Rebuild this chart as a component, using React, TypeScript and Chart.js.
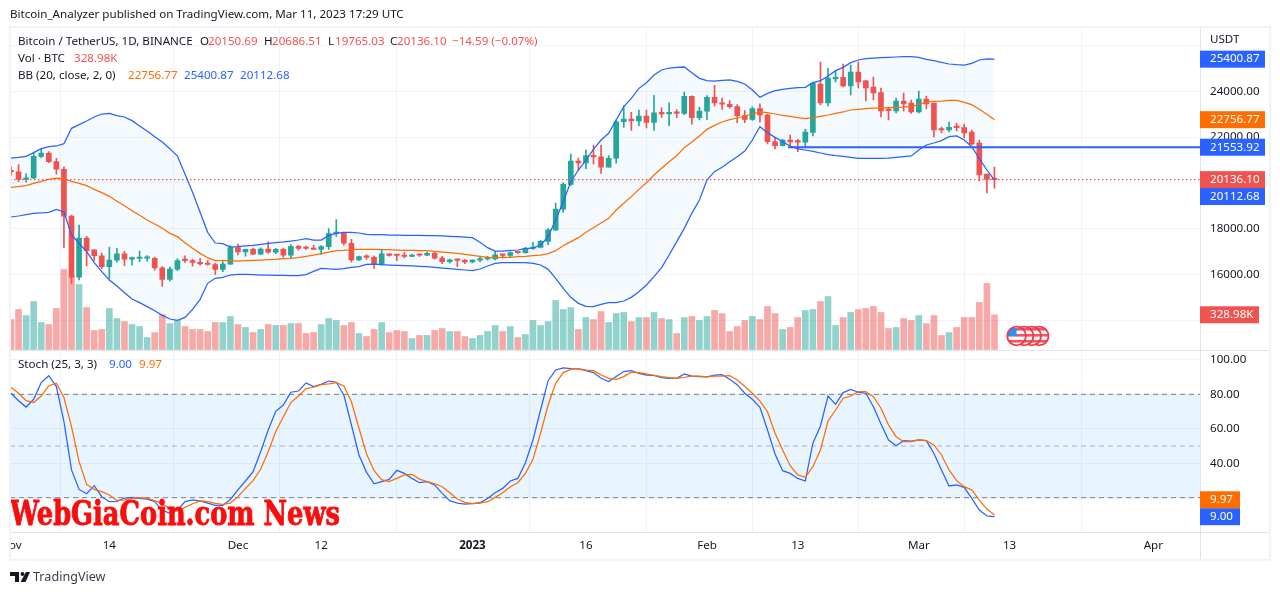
import React, { useEffect, useRef } from "react";
import { Chart, registerables } from "chart.js";

Chart.register(...registerables);

// ---------- data (day 0 = 1 Nov 2022, day 130 = 11 Mar 2023) ----------
const opens = [
  20490, 20482, 20151, 20207, 21147, 21300, 20925, 20590, 18543, 15880,
  17586, 17070, 16812, 16330, 16618, 16900, 16661, 16692, 16700, 16700,
  16280, 15781, 16226, 16603, 16598, 16522, 16458, 16428, 16212, 16442,
  17163, 16977, 17092, 16885, 17105, 16966, 17089, 16836, 17224, 17130,
  17128, 17085, 17209, 17775, 17803, 17356, 16632, 16777, 16739, 16438,
  16895, 16824, 16821, 16778, 16836, 16832, 16918, 16706, 16547, 16633,
  16607, 16542, 16617, 16672, 16675, 16850, 16829, 16950, 16943, 17127,
  17180, 17440, 17943, 18850, 19930, 20950, 20871, 21185, 21133, 20677,
  21071, 22667, 22783, 22707, 22916, 22632, 23060, 23009, 23074, 23031,
  23774, 22840, 23130, 23733, 23488, 23431, 23326, 22932, 22763, 23242,
  22963, 21797, 21625, 21869, 21783, 21773, 22196, 24318, 23486, 24535,
  24608, 24229, 24841, 24450, 24185, 23940, 23180, 23136, 23573, 23486,
  23093, 23661, 23486, 22335, 22306, 22437, 22408, 22218, 21738, 20383,
  20150.69,
];
const closes = [
  20482, 20151, 20207, 21150, 21300, 20925, 20590, 18540, 15880, 17586,
  17034, 16812, 16330, 16620, 16900, 16662, 16692, 16700, 16700, 16280,
  15781, 16226, 16603, 16598, 16522, 16458, 16428, 16212, 16442, 17163,
  16977, 17092, 16885, 17105, 16966, 17089, 16836, 17224, 17128, 17128,
  17085, 17209, 17775, 17803, 17356, 16632, 16777, 16739, 16438, 16895,
  16824, 16821, 16778, 16836, 16832, 16918, 16706, 16547, 16633, 16607,
  16542, 16617, 16672, 16675, 16850, 16829, 16950, 16943, 17127, 17180,
  17440, 17943, 18850, 19930, 20950, 20871, 21185, 21133, 20677, 21071,
  22667, 22783, 22707, 22916, 22632, 23060, 23009, 23074, 23031, 23774,
  22840, 23130, 23733, 23488, 23431, 23326, 22932, 22763, 23242, 22963,
  21797, 21625, 21869, 21783, 21773, 22218, 24345, 23486, 24578, 24608,
  24229, 24841, 24404, 24141, 23923, 23136, 23150, 23573, 23442, 23093,
  23661, 23442, 22306, 22306, 22422, 22408, 22175, 21694, 20339, 20150,
  20136.1,
];
const highs = [
  20700, 20800, 20394, 21302, 21480, 21367, 21070, 20700, 18590, 18154,
  17660, 17070, 16926, 17190, 17134, 17000, 16750, 17014, 16820, 16750,
  16340, 16316, 16680, 16812, 16670, 16700, 16600, 16480, 16550, 17250,
  17320, 17100, 17150, 17160, 17424, 17130, 17150, 17300, 17270, 17230,
  17270, 17260, 18000, 18387, 17850, 17533, 16800, 16850, 16800, 17061,
  16895, 16860, 16960, 16870, 16870, 16970, 17000, 16780, 16670, 16670,
  16650, 16630, 16760, 16780, 16990, 16870, 16980, 16970, 17180, 17400,
  17490, 18000, 19117, 20000, 21258, 21075, 21439, 21650, 21650, 21190,
  22755, 23371, 23078, 23180, 23180, 23816, 23280, 23489, 23200, 23960,
  23800, 23310, 23812, 24255, 23700, 23590, 23420, 23150, 23320, 23450,
  23000, 21942, 21898, 22087, 21898, 22335, 24403, 25278, 25001, 24884,
  25190, 25146, 25278, 24491, 24622, 24141, 23296, 23704, 23923, 23617,
  24010, 23792, 23486, 22437, 22655, 22612, 22568, 22306, 21869, 20383,
  20686.51,
];
const lows = [
  20330, 20048, 20031, 20180, 21100, 20880, 20380, 17166, 15588, 15750,
  16361, 16600, 16250, 15815, 16530, 16375, 16400, 16550, 16570, 16180,
  15476, 15700, 16160, 16520, 16350, 16400, 16400, 15995, 16120, 16430,
  16850, 16790, 16860, 16870, 16910, 16900, 16750, 16730, 17060, 17085,
  17080, 16870, 17090, 17660, 17275, 16527, 16600, 16650, 16258, 16398,
  16790, 16592, 16720, 16770, 16780, 16810, 16660, 16470, 16490, 16333,
  16470, 16500, 16540, 16620, 16630, 16710, 16750, 16910, 16920, 17090,
  17150, 17300, 17910, 18700, 19888, 20551, 20611, 20822, 20407, 20677,
  20859, 22422, 22292, 22500, 22400, 22292, 22857, 22500, 22850, 22980,
  22560, 22745, 22760, 23350, 23200, 23260, 22630, 22630, 22720, 22650,
  21700, 21476, 21600, 21607, 21359, 21563, 22044, 23400, 23355, 24404,
  24185, 23835, 24141, 23573, 23617, 22874, 22743, 23049, 23136, 23034,
  23049, 23224, 22000, 22175, 22218, 22262, 21956, 21650, 20077, 19553,
  19765.03,
];
const volumesK = [
  284, 379, 322, 455, 256, 237, 389, 758, 695, 616,
  398, 180, 190, 389, 294, 265, 237, 218, 114, 161,
  332, 246, 275, 218, 190, 190, 171, 256, 256, 313,
  237, 209, 161, 190, 237, 228, 228, 246, 246, 152,
  161, 237, 294, 275, 228, 256, 152, 123, 190, 256,
  161, 180, 171, 104, 133, 133, 180, 199, 171, 171,
  123, 104, 133, 171, 228, 171, 218, 114, 142, 275,
  228, 265, 465, 379, 398, 190, 303, 284, 360, 256,
  341, 351, 265, 303, 303, 351, 294, 284, 152, 303,
  313, 275, 313, 370, 341, 171, 218, 275, 313, 284,
  408, 341, 190, 209, 303, 370, 379, 455, 502, 228,
  303, 351, 379, 389, 408, 351, 199, 209, 294, 275,
  322, 246, 322, 133, 161, 209, 303, 303, 446, 626,
  328.98,
];
const bbUpper = [
  21082, 21111, 21155, 21315, 21490, 21578, 21607, 21709, 22379, 22539,
  22699, 22874, 23005, 23034, 22932, 22874, 22714, 22481, 22262, 22015,
  21782, 21490, 21170, 20383, 19582, 18708, 17834, 17368, 17339, 17193,
  17207, 17237, 17266, 17309, 17353, 17382, 17412, 17455, 17499, 17557,
  17499, 17499, 17688, 17790, 17834, 17834, 17805, 17747, 17732, 17732,
  17717, 17717, 17703, 17703, 17703, 17688, 17688, 17674, 17660, 17645,
  17630, 17601, 17397, 17164, 17018, 17018, 17047, 17062, 17135, 17149,
  17280, 17644, 18373, 19174, 20048, 20558, 20995, 21461, 21869, 22160,
  22743, 23326, 23690, 24127, 24374, 24710, 24928, 25015, 25045, 25059,
  24811, 24564, 24462, 24447, 24476, 24491, 24433, 24316, 24054, 23734,
  23908, 24025, 24083, 24127, 24156, 24170, 24374, 24462, 24666, 24899,
  25045, 25248, 25365, 25423, 25452, 25467, 25482, 25496, 25511, 25511,
  25482, 25394, 25336, 25263, 25190, 25161, 25146, 25219, 25365, 25409,
  25400.87,
];
const bbBasis = [
  19800, 19830, 19873, 19975, 20063, 20150, 20208, 20179, 20063, 19975,
  19873, 19713, 19567, 19407, 19189, 18999, 18781, 18577, 18373, 18198,
  18009, 17790, 17645, 17382, 17135, 16916, 16727, 16596, 16596, 16596,
  16581, 16596, 16610, 16625, 16640, 16654, 16683, 16698, 16727, 16785,
  16843, 16902, 16974, 17033, 17047, 17076, 17091, 17091, 17091, 17076,
  17076, 17062, 17047, 17047, 17033, 17033, 17004, 16974, 16945, 16916,
  16873, 16829, 16785, 16741, 16727, 16741, 16741, 16771, 16785, 16814,
  16843, 16902, 17033, 17251, 17426, 17601, 17834, 18038, 18242, 18446,
  18810, 19101, 19393, 19713, 20004, 20339, 20631, 20922, 21184, 21534,
  21782, 22044, 22335, 22510, 22656, 22757, 22830, 22918, 23005, 23093,
  23063, 23005, 22947, 22903, 22845, 22801, 22845, 22903, 22961, 23034,
  23093, 23180, 23209, 23238, 23267, 23267, 23282, 23296, 23311, 23340,
  23413, 23530, 23559, 23573, 23602, 23602, 23515, 23413, 23209, 22991,
  22756.77,
];
const bbLower = [
  18504, 18548, 18606, 18664, 18679, 18708, 18839, 18723, 17717, 17353,
  16989, 16508, 16115, 15751, 15489, 15197, 14920, 14760, 14586, 14410,
  14207, 14047, 13988, 14119, 14469, 14906, 15605, 15824, 15867, 15969,
  15998, 15998, 15984, 15969, 15969, 15955, 15955, 15940, 15940, 15984,
  16130, 16261, 16232, 16217, 16246, 16304, 16334, 16436, 16450, 16421,
  16406, 16392, 16377, 16363, 16348, 16334, 16304, 16275, 16246, 16217,
  16188, 16159, 16232, 16363, 16479, 16508, 16508, 16508, 16508, 16479,
  16406, 16217, 15824, 15387, 14993, 14731, 14600, 14585, 14687, 14760,
  14760, 14833, 14993, 15241, 15532, 15896, 16290, 16843, 17426, 18009,
  18664, 19247, 20121, 20485, 20674, 20922, 21141, 21388, 21869, 22452,
  22189, 21985, 21796, 21607, 21476, 21432, 21374, 21301, 21228, 21184,
  21155, 21111, 21068, 21068, 21068, 21068, 21082, 21111, 21140, 21170,
  21432, 21650, 21738, 21840, 22015, 22044, 21869, 21578, 21053, 20558,
  20112.68,
];
const stochK = [
  80.6, 76.3, 72.6, 77.1, 86.8, 90.8, 84.5, 64.1, 36.1, 24.8,
  22.3, 27.0, 20.6, 17.7, 17.9, 19.8, 20.2, 19.6, 19.2, 17.7,
  12.8, 10.9, 12.8, 17.7, 18.8, 18.1, 16.9, 15.6, 15.6, 19.0,
  24.6, 29.7, 35.1, 46.7, 59.3, 70.1, 73.8, 81.2, 81.9, 86.6,
  84.5, 85.8, 87.7, 87.0, 79.6, 62.2, 44.8, 34.7, 28.1, 29.3,
  30.6, 35.9, 34.1, 31.2, 28.7, 29.3, 27.4, 22.5, 18.3, 16.9,
  16.3, 16.5, 17.1, 19.6, 22.9, 25.4, 29.7, 31.2, 40.3, 53.5,
  70.9, 87.9, 94.1, 95.3, 94.9, 94.7, 93.7, 92.6, 89.3, 87.4,
  90.3, 93.2, 93.8, 92.2, 91.2, 91.0, 89.7, 89.3, 89.3, 91.8,
  90.6, 90.3, 90.1, 91.2, 91.4, 88.7, 85.6, 80.6, 77.1, 72.5,
  59.3, 45.4, 35.7, 34.1, 31.2, 29.7, 51.6, 61.6, 79.0, 74.2,
  81.0, 82.9, 81.2, 80.6, 72.8, 62.8, 53.5, 50.2, 53.1, 52.9,
  53.5, 53.1, 45.7, 36.1, 26.8, 27.4, 26.0, 19.6, 12.8, 9.4,
  9.0,
];
const stochD = [
  84.1, 80.6, 76.3, 75.2, 79.0, 85.0, 86.4, 78.1, 61.2, 40.9,
  27.7, 24.8, 23.5, 21.6, 18.5, 18.8, 19.6, 20.0, 19.8, 18.3,
  16.5, 13.4, 12.3, 14.4, 16.5, 18.1, 17.7, 16.7, 16.1, 16.9,
  20.6, 25.4, 29.9, 36.5, 46.7, 58.4, 67.0, 75.2, 79.0, 83.3,
  84.1, 85.6, 86.0, 86.8, 84.8, 75.7, 60.3, 45.4, 35.7, 30.5,
  29.3, 31.2, 33.2, 33.6, 30.8, 29.3, 28.1, 26.4, 22.9, 19.2,
  17.3, 16.5, 16.9, 17.7, 20.2, 22.9, 26.4, 28.7, 34.1, 42.3,
  57.4, 73.8, 86.4, 92.6, 94.5, 94.9, 94.1, 93.7, 91.2, 89.3,
  88.7, 90.3, 92.8, 92.6, 91.8, 91.0, 90.3, 89.7, 89.3, 89.9,
  90.6, 90.6, 90.1, 90.6, 90.6, 90.8, 88.3, 84.5, 80.6, 76.1,
  69.9, 57.4, 47.7, 38.6, 33.2, 31.8, 38.0, 47.7, 64.5, 70.9,
  77.7, 79.0, 81.5, 81.5, 78.6, 71.9, 62.2, 55.4, 52.5, 52.5,
  53.5, 53.1, 50.6, 44.8, 36.1, 29.9, 26.4, 24.5, 18.6, 13.4,
  9.97,
];
const timeTickDays = [0, 13, 30, 41, 61, 76, 92, 104, 120, 132, 151];
const timeTickLabels = ["Nov", "14", "Dec", "12", "2023", "16", "Feb", "13", "Mar", "13", "Apr"];
const priceTicks = [14000, 16000, 18000, 20000, 22000, 24000, 26000];
const stochTicks = [20, 40, 60, 80, 100];
const stochLevels = [80, 50, 20];
const levelPrice = [21553.92];
const levelStartDay = [102.7];
const lastPrice = [20136.1];
const eventDays = [133, 134, 135, 136];

// ---------- style ----------
const UP = "#26a69a";
const DOWN = "#ef5350";
const UP_VOL = "rgba(38,166,154,0.5)";
const DOWN_VOL = "rgba(239,83,80,0.5)";
const BLUE = "#2962FF";
const ORANGE = "#FF6D00";
const INK = "#131722";
const GRID = "#f0f3fa";
const EDGE = "#e0e3eb";
const FONT = "'Noto Sans'";
const X_MIN = -0.13;
const X_MAX = 157.17;

const isUp = (i: number) => closes[i] >= opens[i];
const days = closes.map((_, i) => i);
const series = (values: number[]) => values.map((y, x) => ({ x, y }));

const line = (label: string, data: any[], color: string, yAxisID: string, order: number, extra: any = {}) => ({
  type: "line",
  label,
  data,
  yAxisID,
  order,
  borderColor: color,
  borderWidth: 1.25,
  pointRadius: 0,
  tension: 0,
  fill: false,
  ...extra,
});

const span = (y: number, from = X_MIN) => [
  { x: from, y },
  { x: X_MAX, y },
];

const overlayPlugin = {
  id: "overlay",
  afterDraw(chart: any) {
    const { ctx, chartArea, scales } = chart;
    const put = (s: string, x: number, y: number, color = INK, font = `11.6px ${FONT}`) => {
      ctx.font = font;
      ctx.fillStyle = color;
      ctx.textAlign = "left";
      ctx.textBaseline = "middle";
      ctx.fillText(s, x, y);
    };
    ctx.save();

    // pane separators
    ctx.strokeStyle = EDGE;
    ctx.lineWidth = 1;
    const hr = (y: number, x0: number, x1: number) => {
      ctx.beginPath();
      ctx.moveTo(x0, y);
      ctx.lineTo(x1, y);
      ctx.stroke();
    };
    const pane = scales.yPrice.bottom;
    hr(Math.round(pane) + 0.5, chartArea.left, 1270);
    hr(chartArea.bottom + 0.5, chartArea.left, 1270);
    ctx.beginPath();
    ctx.moveTo(chartArea.right + 0.5, 27);
    ctx.lineTo(chartArea.right + 0.5, 560);
    ctx.stroke();

    // event flags
    for (let k = eventDays.length - 1; k >= 0; k--) {
      const cx = scales.x.getPixelForValue(eventDays[k]) - 0.6;
      const cy = pane - 13.5;
      ctx.save();
      ctx.beginPath();
      ctx.arc(cx, cy, 9.3, 0, Math.PI * 2);
      ctx.fillStyle = "#ffffff";
      ctx.fill();
      ctx.clip();
      ctx.fillStyle = "#f7525f";
      ctx.fillRect(cx - 10, cy - 8, 20, 2.6);
      ctx.fillRect(cx - 10, cy - 2, 20, 2.6);
      ctx.fillRect(cx - 10, cy + 4, 20, 2.6);
      ctx.fillStyle = "#2196f3";
      ctx.fillRect(cx - 9, cy - 8, 9, 8);
      ctx.restore();
      ctx.beginPath();
      ctx.arc(cx, cy, 9.3, 0, Math.PI * 2);
      ctx.strokeStyle = "#f23645";
      ctx.lineWidth = 1.8;
      ctx.stroke();
    }

    // value tags on the right axis
    const tag = (s: string, scale: any, v: number, color: string, nudge = 0, w = 65) => {
      const y = scale.getPixelForValue(v) + nudge;
      ctx.fillStyle = color;
      ctx.fillRect(chartArea.right, y - 8.5, w, 17);
      put(s, chartArea.right + 10, y, "#ffffff");
    };
    tag(bbUpper[130].toFixed(2), scales.yPrice, bbUpper[130], BLUE);
    tag(bbBasis[130].toFixed(2), scales.yPrice, bbBasis[130], ORANGE);
    tag(levelPrice[0].toFixed(2), scales.yPrice, levelPrice[0], BLUE);
    tag(bbLower[130].toFixed(2), scales.yPrice, bbLower[130], BLUE, 16.3);
    tag(closes[130].toFixed(2), scales.yPrice, closes[130], DOWN);
    tag(`${volumesK[130].toFixed(2)}K`, scales.yVol, volumesK[130], DOWN, 0, 59);
    tag(stochK[130].toFixed(2), scales.yStoch, stochK[130], BLUE, 0, 40);
    tag(stochD[130].toFixed(2), scales.yStoch, stochD[130], ORANGE, -15.2, 40);

    // pane legends
    put("USDT", 1210, 40);
    put("Bitcoin / TetherUS, 1D, BINANCE", 18, 42);
    put("O", 200, 42);
    put(opens[130].toFixed(2), 208, 42, DOWN);
    put("H", 264, 42);
    put(highs[130].toFixed(2), 272, 42, DOWN);
    put("L", 328, 42);
    put(lows[130].toFixed(2), 335, 42, DOWN);
    put("C", 390, 42);
    put(closes[130].toFixed(2), 397, 42, DOWN);
    put("\u221214.59 (\u22120.07%)", 452, 42, DOWN);
    put("Vol \u00b7 BTC", 18, 59);
    put(`${volumesK[130].toFixed(2)}K`, 74, 59, DOWN);
    put("BB (20, close, 2, 0)", 18, 76);
    put(bbBasis[130].toFixed(2), 128, 76, ORANGE);
    put(bbUpper[130].toFixed(2), 184, 76, BLUE);
    put(bbLower[130].toFixed(2), 240, 76, BLUE);
    put("Stoch (25, 3, 3)", 18, 365);
    put(stochK[130].toFixed(2), 109, 365, BLUE);
    put(stochD[130].toFixed(2), 139, 365, ORANGE);

    // watermark
    ctx.font = `bold 33px 'DejaVu Serif'`;
    ctx.fillStyle = "#fb0d0d";
    ctx.strokeStyle = "#fb0d0d";
    ctx.lineWidth = 0.9;
    ctx.textAlign = "left";
    ctx.textBaseline = "alphabetic";
    ctx.fillText("WebGiaCoin.com News", 10, 525, 330);
    ctx.strokeText("WebGiaCoin.com News", 10, 525, 330);

    // outer frame
    ctx.fillStyle = "#ffffff";
    ctx.fillRect(0, 27, 9, 534);
    ctx.strokeStyle = GRID;
    ctx.lineWidth = 2;
    ctx.strokeRect(10, 27, 1260, 533);

    // header and footer
    put("Bitcoin_Analyzer published on TradingView.com, Mar 11, 2023 17:29 UTC", 10, 15);
    ctx.fillStyle = INK;
    ctx.fillRect(10, 572, 9, 4);
    ctx.fillRect(15, 572, 4, 10);
    ctx.beginPath();
    ctx.arc(22.5, 574, 2, 0, Math.PI * 2);
    ctx.fill();
    ctx.beginPath();
    ctx.moveTo(26, 572);
    ctx.lineTo(30, 572);
    ctx.lineTo(25.5, 582);
    ctx.lineTo(20.5, 582);
    ctx.fill();
    put("TradingView", 33, 577, "#3a3e4a", `12.6px ${FONT}`);

    ctx.restore();
  },
};

export default function App() {
  const ref = useRef<HTMLCanvasElement | null>(null);

  useEffect(() => {
    const chart = new Chart(ref.current as HTMLCanvasElement, {
      data: {
        datasets: [
          // 0-2 Bollinger bands
          line("BB upper", series(bbUpper), BLUE, "yPrice", 5, {
            fill: { target: 2 },
            backgroundColor: "rgba(33,150,243,0.05)",
          }),
          line("BB basis", series(bbBasis), ORANGE, "yPrice", 5),
          line("BB lower", series(bbLower), BLUE, "yPrice", 5),
          // candles
          {
            type: "bar",
            label: "Wick",
            data: days.map((x) => ({ x, y: [lows[x], highs[x]] })),
            yAxisID: "yPrice",
            order: 8,
            grouped: false,
            barThickness: 1,
            backgroundColor: days.map((i) => (isUp(i) ? UP : DOWN)),
          },
          {
            type: "bar",
            label: "Body",
            data: days.map((x) => ({ x, y: [opens[x], closes[x]] })),
            yAxisID: "yPrice",
            order: 7,
            grouped: false,
            barThickness: 5,
            minBarLength: 1.5,
            backgroundColor: days.map((i) => (isUp(i) ? UP : DOWN)),
          },
          // volume
          {
            type: "bar",
            label: "Volume",
            data: days.map((x) => ({ x, y: volumesK[x] })),
            yAxisID: "yVol",
            order: 10,
            grouped: false,
            barThickness: 6,
            backgroundColor: days.map((i) => (isUp(i) ? UP_VOL : DOWN_VOL)),
          },
          // price lines
          line("Level", span(levelPrice[0], levelStartDay[0]), BLUE, "yPrice", 3, { borderWidth: 2 }),
          line("Last", span(lastPrice[0]), DOWN, "yPrice", 4, { borderDash: [1.5, 2.5], borderWidth: 1.2 }),
          // stochastic band and levels
          line("Stoch upper band", span(stochLevels[0]), "#787b86", "yStoch", 6, {
            borderDash: [5, 4],
            borderWidth: 1,
            fill: { target: 10 },
            backgroundColor: "rgba(33,150,243,0.1)",
          }),
          line("Stoch middle", span(stochLevels[1]), "rgba(120,123,134,0.55)", "yStoch", 6, {
            borderDash: [5, 4],
            borderWidth: 1,
          }),
          line("Stoch lower band", span(stochLevels[2]), "#787b86", "yStoch", 6, {
            borderDash: [5, 4],
            borderWidth: 1,
          }),
          line("%K", series(stochK), BLUE, "yStoch", 2),
          line("%D", series(stochD), ORANGE, "yStoch", 1),
        ] as any,
      },
      options: {
        responsive: false,
        animation: false,
        events: [],
        devicePixelRatio: 1,
        layout: { padding: { left: 10, top: 27, right: 9, bottom: 36 } },
        plugins: {
          legend: { display: false },
          tooltip: { enabled: false },
          filler: { drawTime: "beforeDatasetsDraw", propagate: false },
        },
        scales: {
          x: {
            type: "linear",
            min: X_MIN,
            max: X_MAX,
            offset: false,
            border: { display: false },
            grid: { color: GRID, drawTicks: false },
            afterBuildTicks: (s: any) => {
              s.ticks = timeTickDays.map((value) => ({ value }));
            },
            afterFit: (s: any) => {
              s.height = 27;
              s.paddingLeft = 0;
              s.paddingRight = 0;
            },
            ticks: {
              autoSkip: false,
              maxRotation: 0,
              padding: 7,
              color: INK,
              font: (c: any) => ({
                family: "Noto Sans",
                size: 11.6,
                weight: c.tick && c.tick.value === 61 ? "bold" : "normal",
              }),
              callback: (v: any) => timeTickLabels[timeTickDays.indexOf(v)] ?? "",
            },
          },
          yPrice: {
            type: "linear",
            position: "right",
            stack: "panes",
            stackWeight: 322.5,
            weight: 0,
            min: 12714,
            max: 26807,
            border: { display: false },
            grid: { color: GRID, drawTicks: false },
            afterBuildTicks: (s: any) => {
              s.ticks = priceTicks.map((value) => ({ value }));
            },
            afterFit: (s: any) => {
              s.width = 71;
              s.paddingTop = 0;
              s.paddingBottom = 0;
            },
            ticks: {
              padding: 10,
              color: INK,
              font: { family: "Noto Sans", size: 11.6 },
              callback: (v: any) => (v === 26000 ? "" : Number(v).toFixed(2)),
            },
          },
          yStoch: {
            type: "linear",
            position: "right",
            stack: "panes",
            stackWeight: 182.5,
            weight: 1,
            min: 0.1,
            max: 106,
            border: { display: false },
            grid: { color: GRID, drawTicks: false },
            afterBuildTicks: (s: any) => {
              s.ticks = stochTicks.map((value) => ({ value }));
            },
            afterFit: (s: any) => {
              s.width = 71;
              s.paddingTop = 0;
              s.paddingBottom = 0;
            },
            ticks: {
              padding: 10,
              color: INK,
              font: { family: "Noto Sans", size: 11.6 },
              callback: (v: any) => Number(v).toFixed(2),
            },
          },
          yVol: {
            type: "linear",
            position: "right",
            display: false,
            min: -1730,
            max: 3057,
          },
        },
      } as any,
      plugins: [overlayPlugin],
    } as any);
    return () => chart.destroy();
  }, []);

  return (
    <div style={{ position: "fixed", left: 0, top: 0, width: 1280, height: 595, background: "#fff" }}>
      <canvas ref={ref} width={1280} height={595} style={{ display: "block" }} />
    </div>
  );
}
